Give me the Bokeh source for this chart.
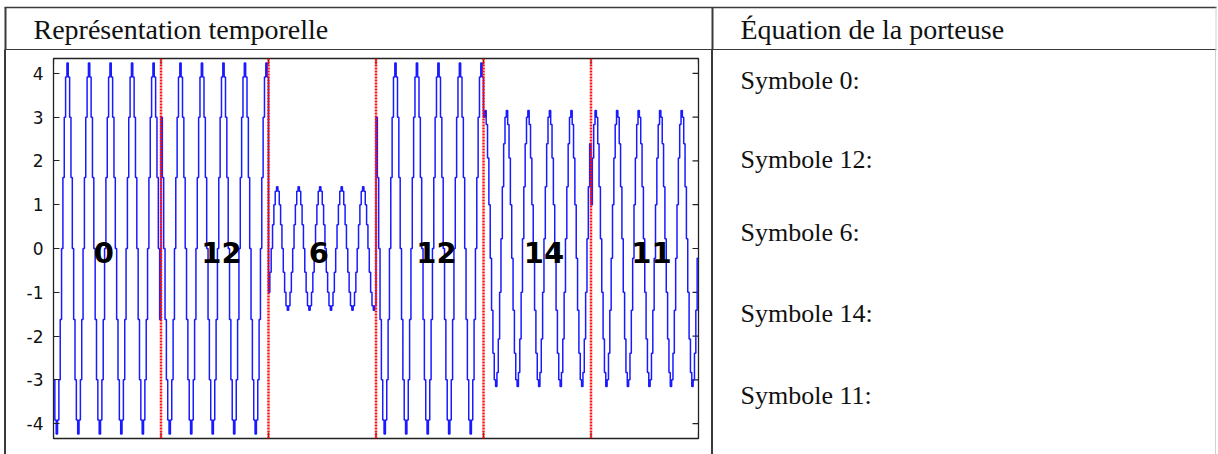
import math
from bokeh.plotting import figure
from bokeh.layouts import column, row
from bokeh.models import LinearAxis, FixedTicker, Span, ColumnDataSource, Spacer
from bokeh.core.properties import value
from bokeh.embed import file_html
from bokeh.resources import INLINE

# ---------------- data ----------------
symbols = [0, 12, 6, 12, 14, 11]
symbol_labels = ["0", "12", "6", "12", "14", "11"]
cycles_per_symbol = 5

# one carrier period (16 held samples) for each symbol
cycle_sym0 = [-3.00, -3.92, -4.24, -3.92, -3.00, -1.62, 0.00, 1.62,
              3.00, 3.92, 4.24, 3.92, 3.00, 1.62, 0.00, -1.62]
cycle_sym12 = [3.00, 1.62, 0.00, -1.62, -3.00, -3.92, -4.24, -3.92,
               -3.00, -1.62, 0.00, 1.62, 3.00, 3.92, 4.24, 3.92]
cycle_sym6 = [-1.00, -0.54, 0.00, 0.54, 1.00, 1.31, 1.41, 1.31,
              1.00, 0.54, 0.00, -0.54, -1.00, -1.31, -1.41, -1.31]
cycle_sym14 = [3.00, 3.15, 2.83, 2.07, 1.00, -0.22, -1.41, -2.39,
               -3.00, -3.15, -2.83, -2.07, -1.00, 0.22, 1.41, 2.39]
cycle_sym11 = [1.00, 2.07, 2.83, 3.15, 3.00, 2.39, 1.41, 0.22,
               -1.00, -2.07, -2.83, -3.15, -3.00, -2.39, -1.41, -0.22]

y_ticks = [-4, -3, -2, -1, 0, 1, 2, 3, 4]
y_tick_labels = ["-4", "-3", "-2", "-1", "0", "1", "2", "3", "4"]

header_left = "Représentation temporelle"
header_right = "Équation de la porteuse"
equation_rows = ["Symbole 0:", "Symbole 12:", "Symbole 6:", "Symbole 14:", "Symbole 11:"]

# ---------------- build the trace ----------------
cycle_of = {0: cycle_sym0, 12: cycle_sym12, 6: cycle_sym6, 14: cycle_sym14, 11: cycle_sym11}
ys = []
for s in symbols:
    ys += cycle_of[s] * cycles_per_symbol
xs = list(range(len(ys)))
xs.append(len(ys))
ys.append(ys[-1])
samples_per_symbol = len(cycle_sym0) * cycles_per_symbol
n_total = samples_per_symbol * len(symbols)
boundaries = [samples_per_symbol * i for i in range(1, len(symbols))]
Y0, Y1 = -4.34, 4.34

LINE = "#3a3a3a"
TXT = "#111111"
SERIF = "Liberation Serif"

# ---------------- header row (1218 x 50) ----------------
hdr = figure(width=1218, height=50, x_range=(0, 1218), y_range=(50, 0),
             output_backend="svg", toolbar_location=None,
             x_axis_location=None, y_axis_location=None, min_border=0,
             outline_line_color=None, background_fill_color="white",
             border_fill_color="white")
hdr.grid.visible = False
hdr.segment(x0=[4, 4], y0=[7, 49.2], x1=[1216, 1216], y1=[7, 49.2],
            line_color=LINE, line_width=1.6)
hdr.segment(x0=[5, 712], y0=[7, 7], x1=[5, 712], y1=[50, 50],
            line_color=LINE, line_width=2)
hdr.segment(x0=[1215.5], y0=[7], x1=[1215.5], y1=[50], line_color="#d0d0d0", line_width=1)
hdr.text(x=[33, 740], y=[29, 29], text=[header_left, header_right],
         text_font=value(SERIF), text_font_size="28px", text_color=TXT,
         text_align="left", text_baseline="middle")

# ---------------- the waveform plot (x 6..711, y 50..454) ----------------
p = figure(width=705, height=404, output_backend="svg", toolbar_location=None,
           x_range=(0, n_total), y_range=(Y0, Y1),
           x_axis_location=None, y_axis_location=None,
           min_border_left=47, min_border_right=13,
           min_border_top=8, min_border_bottom=16,
           background_fill_color="white", border_fill_color="white")
p.grid.visible = False
p.outline_line_color = "#222222"
p.outline_line_width = 1.3

ax_l = LinearAxis(ticker=FixedTicker(ticks=y_ticks),
                  major_label_overrides={t: s for t, s in zip(y_ticks, y_tick_labels)})
ax_l.axis_line_color = None
ax_l.major_tick_in = 6
ax_l.major_tick_out = 0
ax_l.major_tick_line_color = "#222222"
ax_l.major_tick_line_width = 1.2
ax_l.minor_tick_line_color = None
ax_l.major_label_text_font = "DejaVu Sans"
ax_l.major_label_text_font_size = "17px"
ax_l.major_label_text_color = TXT
ax_l.major_label_standoff = 10
p.add_layout(ax_l, "left")

# mirrored inward ticks (right side, top and bottom at symbol boundaries)
xt = [0] + boundaries + [n_total]
p.scatter(x=[n_total] * len(y_ticks), y=y_ticks, marker="dash", size=12,
          line_color="#222222", line_width=1.2)
p.scatter(x=xt + xt, y=[Y1] * len(xt) + [Y0] * len(xt), marker="dash", angle=math.pi / 2,
          size=12, line_color="#222222", line_width=1.2)

# trace
p.step(xs, ys, mode="after", line_color="#1a1aff", line_width=1.5)

# symbol boundaries
for b in boundaries:
    p.add_layout(Span(location=b, dimension="height", line_color="#ff1010",
                      line_width=2.5, line_dash="2 1"))

# symbol numbers
lab_src = ColumnDataSource(dict(
    x=[samples_per_symbol * i + 30 for i in range(len(symbols))],
    y=[-0.1] * len(symbols),
    t=symbol_labels))
p.text(x="x", y="y", text="t", source=lab_src, text_font=value("DejaVu Sans"),
       text_font_style="bold", text_font_size="29px", text_color="#000000",
       text_align="left", text_baseline="middle")

# ---------------- right column (equations, x 713..1215) ----------------
eq = figure(width=502, height=404, x_range=(713, 1215), y_range=(438, 58),
            output_backend="svg", toolbar_location=None,
            x_axis_location=None, y_axis_location=None,
            min_border_left=0, min_border_right=0, min_border_top=8, min_border_bottom=16,
            outline_line_color=None, background_fill_color="white",
            border_fill_color="white")
eq.grid.visible = False
row_centers = [79.5, 159, 231.7, 313, 395]
eq.text(x=[740] * len(equation_rows), y=row_centers, text=equation_rows,
        text_font=value(SERIF), text_font_size="26px", text_color=TXT,
        text_align="left", text_baseline="middle")


def bar(w, color=None):
    st = {"background-color": color} if color else {"background-color": "white"}
    return Spacer(width=w, height=404, styles=st)


lower = row(bar(4), bar(2, LINE), p, bar(2, LINE), eq, bar(1, "#d0d0d0"), bar(2), spacing=0)
layout = column(hdr, lower, spacing=0)

open("out.html", "w").write(file_html(layout, INLINE))
